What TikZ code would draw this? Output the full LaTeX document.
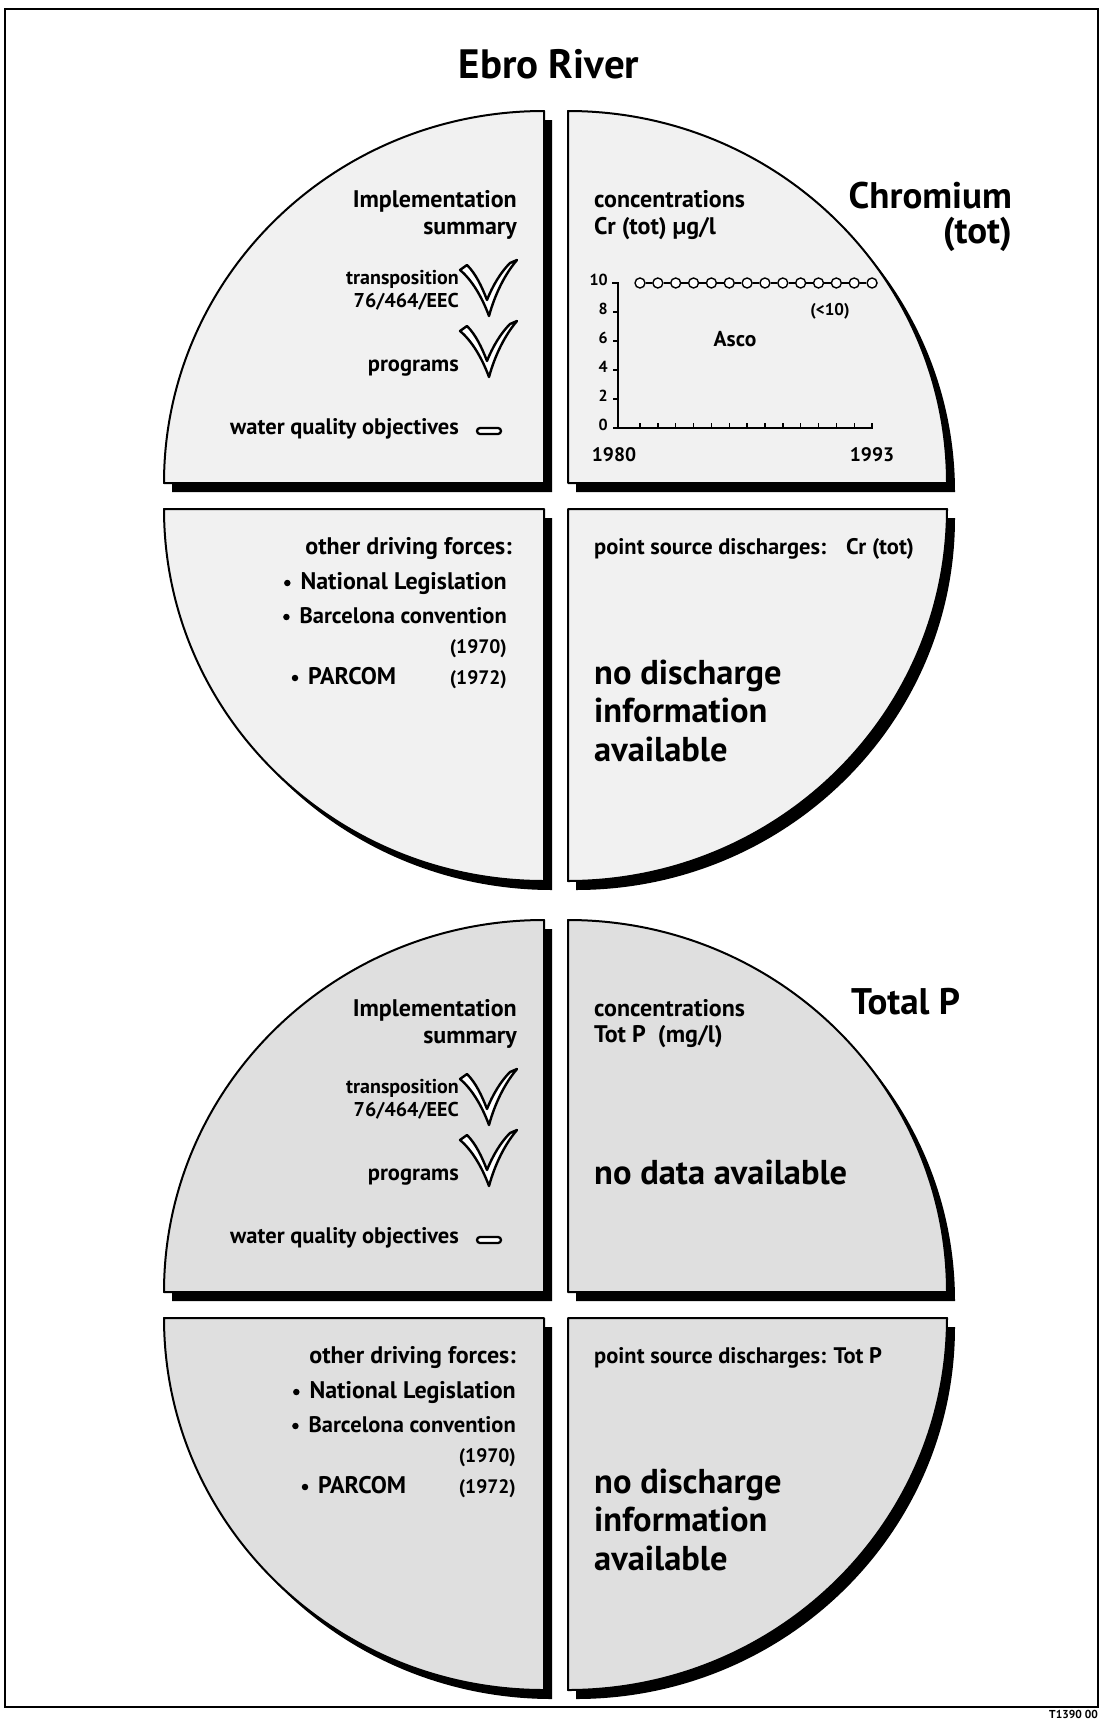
\documentclass[tikz,border=0pt]{standalone}
\usepackage{fontspec}
\setmainfont{PT Sans}
\definecolor{stippleA}{gray}{0.945}
\definecolor{stippleB}{gray}{0.875}

% the four quarter discs of one wheel, drawn with the current style "qd"
\newcommand\fourquads{%
  \path[qd] (544,483) -- ++(-380,0) arc[start angle=180,end angle=270,x radius=380,y radius=372] -- cycle;
  \path[qd] (568,483) -- ++(0,-372) arc[start angle=270,end angle=360,x radius=379,y radius=372] -- cycle;
  \path[qd] (544,509) -- ++(-380,0) arc[start angle=180,end angle=90,x radius=380,y radius=372] -- cycle;
  \path[qd] (568,509) -- ++(379,0) arc[start angle=0,end angle=90,x radius=379,y radius=372] -- cycle;
}

\begin{document}
\begin{tikzpicture}[x=1pt,y=-1pt,
  sml/.style={inner sep=0pt, font=\bfseries\fontsize{20}{24}\selectfont},
  yrs/.style={inner sep=0pt, font=\bfseries\fontsize{19.5}{23}\selectfont},
  lbl/.style={inner sep=0pt, font=\bfseries\fontsize{22.5}{26}\selectfont},
  hdr/.style={inner sep=0pt, font=\bfseries\fontsize{24}{28}\selectfont},
  bigtxt/.style={inner sep=0pt, font=\bfseries\fontsize{34.5}{40}\selectfont},
  ttl/.style={inner sep=0pt, font=\bfseries\fontsize{37}{42}\selectfont},
  axl/.style={inner sep=0pt, font=\bfseries\fontsize{16}{18}\selectfont},
  yr/.style={inner sep=0pt, font=\bfseries\fontsize{19.5}{22}\selectfont},
  datapt/.style={circle, draw=black, fill=white, line width=1.4pt, minimum size=10pt, inner sep=0pt},
  bul/.style={circle, fill=black, minimum size=6.5pt, inner sep=0pt},
  pics/checkmk/.style={code={
    \path[draw=black, fill=white, line width=2.4pt, line join=round]
      (-28,10) -- (-21,5) .. controls (-12,14) and (-6,27) .. (-1,40)
      .. controls (5,25) and (13,12) .. (22,3) -- (29,0)
      .. controls (17,14) and (7,34) .. (1,56)
      .. controls (-6,37) and (-16,20) .. (-28,10) -- cycle;
  }},
  pics/eqmark/.style={code={
    \draw[line width=2.3pt, fill=white, rounded corners=3pt] (-12,-3) rectangle (12,3);
  }}
]
\useasboundingbox (0,0) rectangle (1099,1721);
\fill[white] (0,0) rectangle (1099,1721);

% outer frame
\draw[line width=1.5pt] (5,9) rectangle (1098,1707);

% title
\node[inner sep=0pt, font=\bfseries\fontsize{41}{46}\selectfont] (title) at (549,64) {Ebro River};

% ---------- wheel 1 : chromium ----------
\begin{scope}[shift={(8,9)}, qd/.style={fill=black}] \fourquads \end{scope}
\begin{scope}[qd/.style={fill=stippleA, draw=black, line width=2pt, line join=round}] \fourquads \end{scope}

% implementation summary
\node[hdr, anchor=mid east] (impl1) at (517,205) {Implementation};
\node[hdr, anchor=mid east] (summ1) at (517,232) {summary};
\node[sml, anchor=mid east] (trans1) at (459,282) {transposition};
\node[sml, anchor=mid east] (dir1) at (459,305) {76/464/EEC};
\pic (chka1) at (488,260) {checkmk};
\node[lbl, anchor=mid east] (prog1) at (459,369) {programs};
\pic (chkb1) at (488,321) {checkmk};
\node[lbl, anchor=mid east] (wqo1) at (459,432) {water quality objectives};
\pic (eq1) at (489,431) {eqmark};

% concentrations
\node[hdr, anchor=mid west] (conc1) at (594,205) {concentrations};
\node[hdr, anchor=mid west] (unit1) at (594,232) {Cr (tot) µg/l};
\draw[line width=2pt] (612,283) -- (618,283) -- (618,428) -- (873,428);
\foreach \v in {0,2,...,10} {
  \draw[line width=1.4pt] (613,428-14.5*\v) -- (618,428-14.5*\v);
  \node[axl, anchor=mid east] (yl\v) at (608,428-14.5*\v) {\v};
}
\foreach \i in {0,...,13} {
  \draw[line width=1.4pt] (640+17.85*\i,428) -- (640+17.85*\i,423);
  \node[datapt] (p\i) at (640+17.85*\i,283) {};
}
\foreach \i [evaluate=\i as \j using int(\i+1)] in {0,...,12} \draw[line width=1.4pt] (p\i) -- (p\j);
\node[inner sep=0pt, font=\bfseries\fontsize{17}{19}\selectfont] (lt10) at (830,311) {(<10)};
\node[yr, font=\bfseries\fontsize{21.5}{24}\selectfont] (asco) at (735,339) {Asco};
\node[yr] (y1980) at (614,455) {1980};
\node[yr] (y1993) at (872,455) {1993};
\node[ttl, anchor=mid east] (chrom) at (1012,206) {Chromium};
\node[ttl, anchor=mid east] (crtot) at (1012,241) {(tot)};

% other driving forces
\node[hdr, anchor=mid east] (odf1) at (512,552) {other driving forces:};
\node[hdr, anchor=mid east] (nl1) at (507,587) {National Legislation};
\node[bul] (b11) at ([xshift=-13pt,yshift=4pt]nl1.mid west) {};
\node[hdr, font=\bfseries\fontsize{22.5}{26}\selectfont, anchor=mid east] (bc1) at (507,621) {Barcelona convention};
\node[bul] (b12) at ([xshift=-13pt,yshift=4pt]bc1.mid west) {};
\node[yrs, anchor=mid east] (y70a) at (507,651) {(1970)};
\node[hdr, anchor=mid west] (pc1) at (308,682) {PARCOM};
\node[bul] (b13) at ([xshift=-13pt,yshift=4pt]pc1.mid west) {};
\node[yrs, anchor=mid east] (y72a) at (507,682) {(1972)};

% point source discharges
\node[lbl, anchor=mid west] (psd1) at (594,552) {point source discharges:\hspace{20pt}Cr (tot)};
\node[bigtxt, anchor=mid west] (nd1) at (594,682) {no discharge};
\node[bigtxt, anchor=mid west] (inf1) at (594,720) {information};
\node[bigtxt, anchor=mid west] (av1) at (594,759) {available};

% ---------- wheel 2 : total phosphorus ----------
\begin{scope}[shift={(0,809)}]
\begin{scope}[shift={(8,9)}, qd/.style={fill=black}] \fourquads \end{scope}
\begin{scope}[qd/.style={fill=stippleB, draw=black, line width=2pt, line join=round}] \fourquads \end{scope}

\node[hdr, anchor=mid east] (impl2) at (517,205) {Implementation};
\node[hdr, anchor=mid east] (summ2) at (517,232) {summary};
\node[sml, anchor=mid east] (trans2) at (459,282) {transposition};
\node[sml, anchor=mid east] (dir2) at (459,305) {76/464/EEC};
\pic (chka2) at (488,260) {checkmk};
\node[lbl, anchor=mid east] (prog2) at (459,369) {programs};
\pic (chkb2) at (488,321) {checkmk};
\node[lbl, anchor=mid east] (wqo2) at (459,432) {water quality objectives};
\pic (eq2) at (489,431) {eqmark};

\node[hdr, anchor=mid west] (conc2) at (594,205) {concentrations};
\node[hdr, anchor=mid west] (unit2) at (594,231) {Tot P\ \ (mg/l)};
\node[bigtxt, anchor=mid west] (nodata) at (594,373) {no data available};
\node[ttl, anchor=mid west] (totp) at (851,203) {Total P};

\node[hdr, anchor=mid east] (odf2) at (516,552) {other driving forces:};
\node[hdr, anchor=mid east] (nl2) at (516,587) {National Legislation};
\node[bul] (b21) at ([xshift=-13pt,yshift=4pt]nl2.mid west) {};
\node[hdr, font=\bfseries\fontsize{22.5}{26}\selectfont, anchor=mid east] (bc2) at (516,621) {Barcelona convention};
\node[bul] (b22) at ([xshift=-13pt,yshift=4pt]bc2.mid west) {};
\node[yrs, anchor=mid east] (y70b) at (516,651) {(1970)};
\node[hdr, anchor=mid west] (pc2) at (318,682) {PARCOM};
\node[bul] (b23) at ([xshift=-13pt,yshift=4pt]pc2.mid west) {};
\node[yrs, anchor=mid east] (y72b) at (516,682) {(1972)};

\node[lbl, anchor=mid west] (psd2) at (594,552) {point source discharges: Tot P};
\node[bigtxt, anchor=mid west] (nd2) at (594,682) {no discharge};
\node[bigtxt, anchor=mid west] (inf2) at (594,720) {information};
\node[bigtxt, anchor=mid west] (av2) at (594,759) {available};
\end{scope}

% figure code
\node[inner sep=0pt, font=\bfseries\fontsize{11.5}{12}\selectfont, anchor=mid east] (fig) at (1098,1716) {T1390 00};
\end{tikzpicture}
\end{document}
